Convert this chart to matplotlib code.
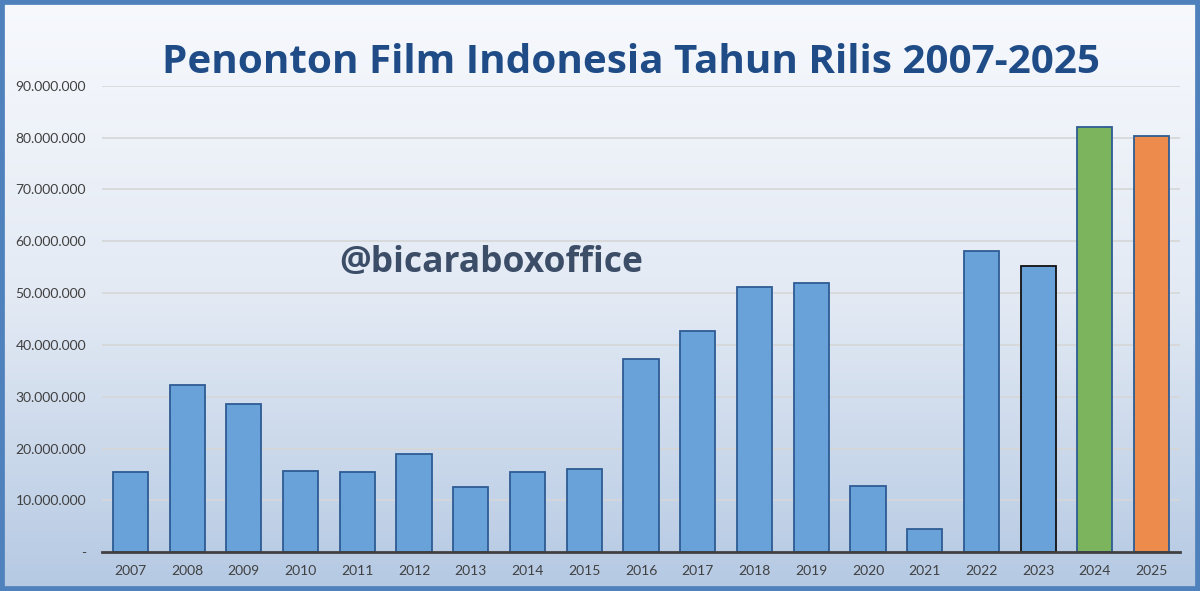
import matplotlib
matplotlib.use("Agg")
import matplotlib.pyplot as plt
import numpy as np
from matplotlib.patches import Rectangle
from matplotlib.ticker import FuncFormatter
from matplotlib.colors import LinearSegmentedColormap

years = ["2007", "2008", "2009", "2010", "2011", "2012", "2013", "2014", "2015", "2016",
         "2017", "2018", "2019", "2020", "2021", "2022", "2023", "2024", "2025"]
viewers = [15.55e6, 32.27e6, 28.6e6, 15.7e6, 15.4e6, 19.0e6, 12.5e6, 15.4e6, 16.1e6, 37.3e6,
           42.7e6, 51.2e6, 51.9e6, 12.85e6, 4.5e6, 58.2e6, 55.2e6, 82.0e6, 80.3e6]
yticks = [0, 10e6, 20e6, 30e6, 40e6, 50e6, 60e6, 70e6, 80e6, 90e6]

title = "Penonton Film Indonesia Tahun Rilis 2007-2025"
watermark = "@bicaraboxoffice"

fig = plt.figure(figsize=(12, 5.91), dpi=100)

# background gradient
bg = fig.add_axes([0, 0, 1, 1], zorder=-10)
grad = np.linspace(0, 1, 256).reshape(-1, 1)
cmap = LinearSegmentedColormap.from_list("bg", ["#f7f9fd", "#e3eaf4", "#b5c9e3"])
bg.imshow(grad, aspect="auto", cmap=cmap, extent=[0, 1, 0, 1], origin="upper")
bg.set_axis_off()

ax = fig.add_axes([102/1200, (591-552.3)/591, (1180-102)/1200, (552.3-85.7)/591])
ax.set_facecolor("none")

x = np.arange(len(years))
fills = ["#69a2d8"] * len(years)
edges = ["#2e5c94"] * len(years)
fills[17] = "#7cb35d"
fills[18] = "#ec8b4c"
edges[16] = "#111111"
ax.bar(x, viewers, width=0.62, color=fills, edgecolor=edges, linewidth=1.3, zorder=3)

ax.set_xlim(-0.5, len(years) - 0.5)
ax.set_ylim(0, 90e6)
ax.set_yticks(yticks)
def fmt(v, pos):
    if v == 0:
        return "-"
    return f"{int(v):,}".replace(",", ".")
ax.yaxis.set_major_formatter(FuncFormatter(fmt))
ax.set_xticks(x)
ax.set_xticklabels(years)
ax.tick_params(axis="both", length=0, labelsize=10, labelcolor="#404040")
ax.tick_params(axis="y", pad=11.5)
ax.tick_params(axis="x", pad=9)
for lab in ax.get_xticklabels() + ax.get_yticklabels():
    lab.set_fontfamily("Lato")
ax.grid(axis="y", color="#d6d6d6", linewidth=1.2, zorder=0)
ax.set_axisbelow(True)
for s in ["top", "right", "left"]:
    ax.spines[s].set_visible(False)
ax.spines["bottom"].set_color("#404040")
ax.spines["bottom"].set_linewidth(2)
ax.spines["bottom"].set_zorder(4)

fig.text(631/1200, 1 - 73/591, title, ha="center", va="baseline", fontsize=29.1,
         fontweight="bold", color="#1f4c87", family="Open Sans")
fig.text(491/1200, 1 - 272/591, watermark, ha="center", va="baseline", fontsize=25.5,
         fontweight="bold", color="#3c4d68", family="Open Sans")

border = Rectangle((0, 0), 1, 1, transform=fig.transFigure, fill=False,
                   edgecolor="#4f81bd", linewidth=7, zorder=20)
fig.patches.append(border)

fig.savefig("out.png", dpi=100)
